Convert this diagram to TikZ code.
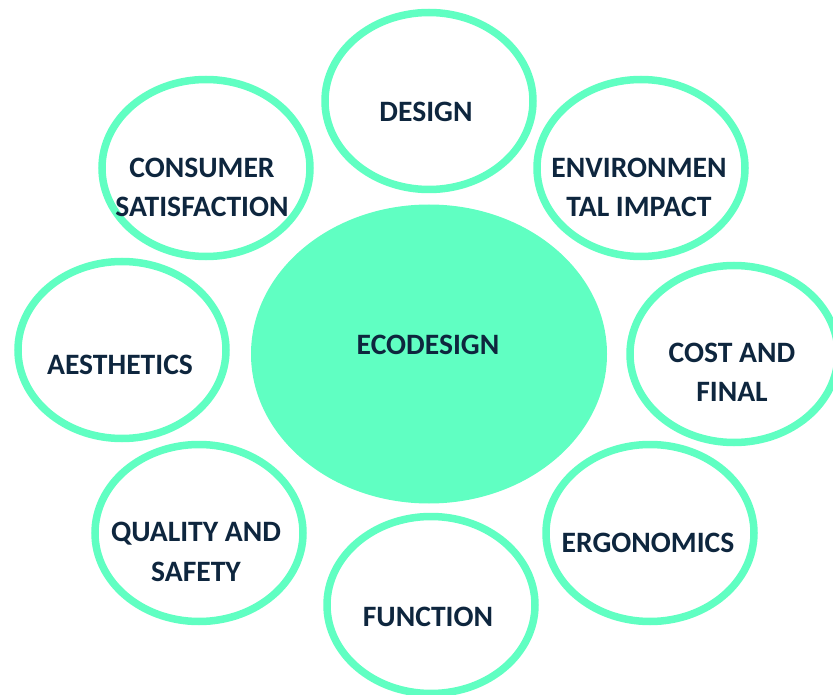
\documentclass[tikz,border=0pt]{standalone}
\usepackage{fontspec}
\setmainfont{Carlito}
\usetikzlibrary{shapes.geometric}

\definecolor{ecogreen}{RGB}{96,255,194}
\definecolor{ecotext}{RGB}{14,38,62}

\tikzset{
  ring/.style={ellipse, draw=ecogreen, line width=7.5pt,
    minimum width=208pt, minimum height=177pt, inner sep=0pt},
  hub/.style={ellipse, fill=ecogreen,
    minimum width=356pt, minimum height=299pt, inner sep=0pt},
  lbl/.style={text=ecotext, font=\fontsize{29.6}{39.5}\selectfont\bfseries,
    align=center, inner sep=0pt}
}

\begin{document}
\begin{tikzpicture}[x=1pt, y=-1pt]

  \useasboundingbox (0,0) rectangle (833,695);

  % Middelpunt
  \node[hub] (hub) at (429,354) {};
  \node[lbl] (hub-t) at (428,345) {ECODESIGN};

  % Ringen rondom
  \node[ring] (design)     at (429,101) {};
  \node[ring] (env)        at (641,168) {};
  \node[ring] (cost)       at (734,354) {};
  \node[ring] (ergonomics) at (650,533) {};
  \node[ring] (function)   at (431,605) {};
  \node[ring] (quality)    at (199,533) {};
  \node[ring] (aesthetics) at (122,350) {};
  \node[ring] (consumer)   at (206,168) {};

  % Labels
  \node[lbl] (design-t)     at (426,112)   {DESIGN};
  \node[lbl] (env-t)        at (639,187.5) {ENVIRONMEN\\TAL IMPACT};
  \node[lbl] (cost-t)       at (732,372.5) {COST AND\\FINAL};
  \node[lbl] (ergonomics-t) at (648,543)   {ERGONOMICS};
  \node[lbl] (function-t)   at (428,617)   {FUNCTION};
  \node[lbl] (quality-t)    at (196,552)   {QUALITY AND\\SAFETY};
  \node[lbl] (aesthetics-t) at (120,365)   {AESTHETICS};
  \node[lbl] (consumer-t)   at (202,187.5) {CONSUMER\\SATISFACTION};

\end{tikzpicture}
\end{document}
